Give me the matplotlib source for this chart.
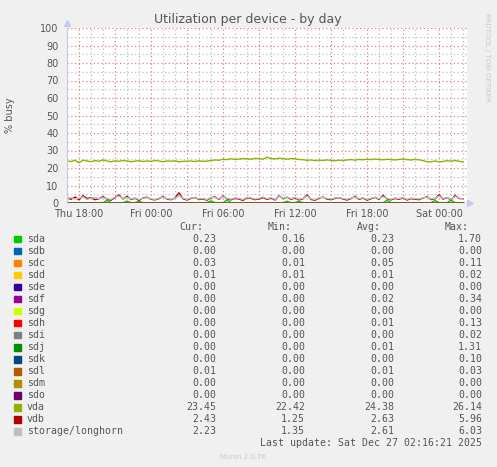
import numpy as np
import matplotlib
matplotlib.use("Agg")
import matplotlib.pyplot as plt
from matplotlib.patches import Rectangle

# Time axis: hours relative to Thu 18:00, one sample every 20 minutes
hours = np.arange(100) / 3.0 - 1.0

tick_hours = [0, 6, 12, 18, 24, 30]
tick_labels = ["Thu 18:00", "Fri 00:00", "Fri 06:00", "Fri 12:00", "Fri 18:00", "Sat 00:00"]

vda_busy = [
    24.1, 23.7, 24.4, 23.0, 24.5, 24.0, 23.6, 24.2, 23.9, 24.6,
    24.0, 23.5, 24.1, 23.8, 24.3, 24.0, 23.6, 23.9, 24.2, 23.7,
    24.0, 23.8, 24.3, 24.0, 23.6, 24.0, 23.9, 24.1, 23.5, 23.8,
    23.9, 24.0, 23.7, 24.1, 23.8, 23.9, 24.3, 24.6, 24.4, 25.0,
    24.8, 25.3, 24.9, 25.1, 25.4, 25.2, 25.0, 25.5, 25.3, 25.1,
    26.1, 25.4, 25.2, 25.6, 25.3, 25.0, 25.4, 25.2, 24.9, 24.7,
    24.4, 24.6, 24.2, 24.5, 24.3, 24.6, 24.4, 24.1, 24.5, 24.3,
    24.6, 24.8, 24.5, 24.9, 24.7, 25.0, 24.8, 25.1, 24.9, 24.7,
    25.0, 24.8, 24.6, 24.9, 25.1, 24.8, 24.6, 24.9, 24.7, 24.2,
    23.6, 23.5, 24.0, 23.5, 23.7, 24.2, 23.9, 24.3, 23.8, 23.4,
]

vdb_busy = [
    2.9, 2.1, 3.4, 1.8, 4.2, 2.6, 3.0, 1.9, 2.4, 3.6,
    2.2, 1.6, 3.1, 4.6, 2.3, 3.8, 2.0, 2.7, 1.5, 2.9,
    3.3, 2.1, 1.8, 2.5, 3.7, 2.2, 1.9, 2.8, 5.9, 2.4,
    1.7, 2.6, 3.2, 2.0, 2.3, 1.6, 2.9, 3.5, 2.1, 4.0,
    2.4, 1.8, 2.7, 2.2, 1.5, 3.0, 2.6, 1.9, 2.3, 3.1,
    2.0, 2.8, 1.7, 4.1, 2.5, 3.3, 2.1, 2.9, 1.8, 2.4,
    4.6, 2.0, 1.6, 2.7, 3.4, 2.2, 1.9, 2.6, 3.0, 2.3,
    1.7, 2.5, 3.8, 2.1, 2.8, 1.6, 2.4, 3.2, 2.0, 4.4,
    2.3, 1.8, 2.6, 2.1, 3.0, 1.7, 2.5, 2.2, 1.9, 2.8,
    3.6, 2.0, 2.4, 4.8, 2.2, 3.1, 1.8, 4.3, 2.6, 2.4,
]

longhorn_busy = [
    2.6, 3.1, 2.2, 2.8, 3.5, 2.0, 2.7, 3.2, 2.4, 3.0,
    2.5, 2.1, 3.4, 3.9, 2.6, 3.1, 2.3, 2.9, 2.0, 2.7,
    3.0, 2.4, 2.1, 2.8, 3.3, 2.5, 2.2, 2.6, 4.1, 2.8,
    2.1, 2.9, 3.0, 2.4, 2.6, 2.0, 3.2, 3.1, 2.5, 3.6,
    2.7, 2.2, 3.0, 2.6, 2.0, 3.3, 2.9, 2.3, 2.7, 3.5,
    2.4, 3.1, 2.1, 3.8, 2.8, 3.4, 2.5, 3.2, 2.2, 2.7,
    3.9, 2.4, 2.0, 3.0, 3.2, 2.6, 2.3, 2.9, 3.1, 2.6,
    2.2, 2.8, 3.4, 2.5, 3.0, 2.1, 2.7, 3.3, 2.4, 3.6,
    2.6, 2.2, 2.9, 2.5, 3.2, 2.1, 2.8, 2.6, 2.3, 3.0,
    3.3, 2.4, 2.7, 4.0, 2.6, 3.2, 2.2, 3.7, 2.9, 2.2,
]

sda_busy = [
    0.2, 0.2, 0.2, 0.2, 0.2, 0.2, 0.2, 0.2, 0.2, 0.2,
    1.5, 0.2, 0.2, 0.2, 0.2, 1.1, 0.2, 0.2, 1.0, 0.2,
    0.2, 0.2, 0.2, 0.2, 0.2, 0.2, 0.2, 0.2, 0.2, 0.2,
    0.2, 0.2, 0.2, 0.2, 0.2, 0.2, 1.2, 0.2, 0.2, 0.2,
    1.7, 0.2, 0.2, 0.2, 0.2, 0.2, 0.2, 0.2, 0.2, 0.2,
    0.2, 0.2, 0.2, 0.2, 0.2, 1.0, 0.2, 0.2, 1.0, 0.2,
    0.2, 0.2, 0.2, 0.2, 0.2, 0.2, 0.2, 0.2, 0.2, 0.2,
    0.2, 0.2, 0.2, 0.2, 0.2, 0.2, 0.2, 0.2, 0.2, 0.2,
    1.5, 0.2, 0.2, 0.2, 0.2, 0.2, 0.2, 0.2, 0.2, 0.2,
    0.2, 0.2, 1.4, 0.2, 0.2, 0.2, 1.6, 0.2, 0.2, 0.2,
]

idle_busy = [0.0] * 100

names = ["sda", "sdb", "sdc", "sdd", "sde", "sdf", "sdg", "sdh", "sdi",
         "sdj", "sdk", "sdl", "sdm", "sdo", "vda", "vdb", "storage/longhorn"]
colors = ["#00CC00", "#0066B3", "#FF8000", "#FFCC00", "#330099", "#990099",
          "#CCFF00", "#FF0000", "#808080", "#008F00", "#00487D", "#B35A00",
          "#B38F00", "#6B006B", "#8FB300", "#B30000", "#BEBEBE"]
cur_vals = [0.23, 0.00, 0.03, 0.01, 0.00, 0.00, 0.00, 0.00, 0.00,
            0.00, 0.00, 0.01, 0.00, 0.00, 23.45, 2.43, 2.23]
min_vals = [0.16, 0.00, 0.01, 0.01, 0.00, 0.00, 0.00, 0.00, 0.00,
            0.00, 0.00, 0.00, 0.00, 0.00, 22.42, 1.25, 1.35]
avg_vals = [0.23, 0.00, 0.05, 0.01, 0.00, 0.02, 0.00, 0.01, 0.00,
            0.01, 0.00, 0.01, 0.00, 0.00, 24.38, 2.63, 2.61]
max_vals = [1.70, 0.00, 0.11, 0.02, 0.00, 0.34, 0.00, 0.13, 0.02,
            1.31, 0.10, 0.03, 0.00, 0.00, 26.14, 5.96, 6.03]

W, H = 497, 467
fig = plt.figure(figsize=(W / 100, H / 100), dpi=100, facecolor="#F0F0F0")
ax = fig.add_axes([67 / W, 1 - 203 / H, 400 / W, 175 / H])
ax.set_facecolor("white")

series = [sda_busy] + [idle_busy] * 13 + [vda_busy, vdb_busy, longhorn_busy]
for vals, col in zip(series, colors):
    ax.plot(hours, vals, color=col, lw=1.0, solid_joinstyle="miter")

ax.set_xlim(-1.0, 32.33)
ax.set_ylim(0, 100)

ax.set_xticks(np.arange(-1, 33, 1), minor=True)
ax.set_xticks(np.arange(0, 33, 3))
ax.set_yticks(np.arange(0, 101, 5), minor=True)
ax.set_yticks(np.arange(0, 101, 10))
ax.grid(which="minor", color="#BEBEBE", ls=(0, (1, 2)), lw=0.9)
ax.grid(which="major", color="#E08080", ls=(0, (1, 2)), lw=0.9)
ax.set_axisbelow(True)

ax.set_xticklabels(["Thu 18:00", "", "Fri 00:00", "", "Fri 06:00", "",
                    "Fri 12:00", "", "Fri 18:00", "", "Sat 00:00"])
ax.tick_params(which="both", length=0, labelsize=7, labelcolor="#555555", pad=4)
ax.tick_params(axis="y", pad=6)

for s in ["top", "right", "bottom"]:
    ax.spines[s].set_visible(False)
ax.spines["left"].set_color("#C8C8F0")
ax.plot([-1.0], [103], marker="^", color="#C8C8F0", ms=5, clip_on=False)
ax.plot([32.6], [0], marker=">", color="#C8C8F0", ms=5, clip_on=False)

ax.set_ylabel("% busy", fontsize=7, color="#555555", labelpad=18)
fig.text(248 / W, 1 - 19 / H, "Utilization per device - by day",
         ha="center", va="center", fontsize=9, color="#555555")
fig.text(487 / W, 1 - 57 / H, "RRDTOOL / TOBI OETIKER", rotation=-90,
         ha="center", va="center", fontsize=5, color="#C8C8C8")
fig.text(243 / W, 1 - 457 / H, "Munin 2.0.76", ha="center", va="center",
         fontsize=5, color="#C8C8C8")

mono = dict(family="DejaVu Sans Mono", fontsize=7.1, color="#555555", va="center")
fig.text(203 / W, 1 - 227 / H, "Cur:", ha="right", **mono)
fig.text(292 / W, 1 - 227 / H, "Min:", ha="right", **mono)
fig.text(381 / W, 1 - 227 / H, "Avg:", ha="right", **mono)
fig.text(469 / W, 1 - 227 / H, "Max:", ha="right", **mono)

row_h = 12.06
for i, name in enumerate(names):
    y = 1 - (238.5 + i * row_h) / H
    fig.patches.append(Rectangle((14 / W, y - 3.5 / H), 6.5 / W, 6.5 / H,
                                 transform=fig.transFigure, color=colors[i]))
    fig.text(27 / W, y, name, ha="left", **mono)
    fig.text(216 / W, y, f"{cur_vals[i]:.2f}", ha="right", **mono)
    fig.text(305 / W, y, f"{min_vals[i]:.2f}", ha="right", **mono)
    fig.text(394 / W, y, f"{avg_vals[i]:.2f}", ha="right", **mono)
    fig.text(482 / W, y, f"{max_vals[i]:.2f}", ha="right", **mono)

fig.text(482 / W, 1 - 443.5 / H, "Last update: Sat Dec 27 02:16:21 2025",
         ha="right", **mono)

fig.savefig("out.png", dpi=100, facecolor=fig.get_facecolor())
